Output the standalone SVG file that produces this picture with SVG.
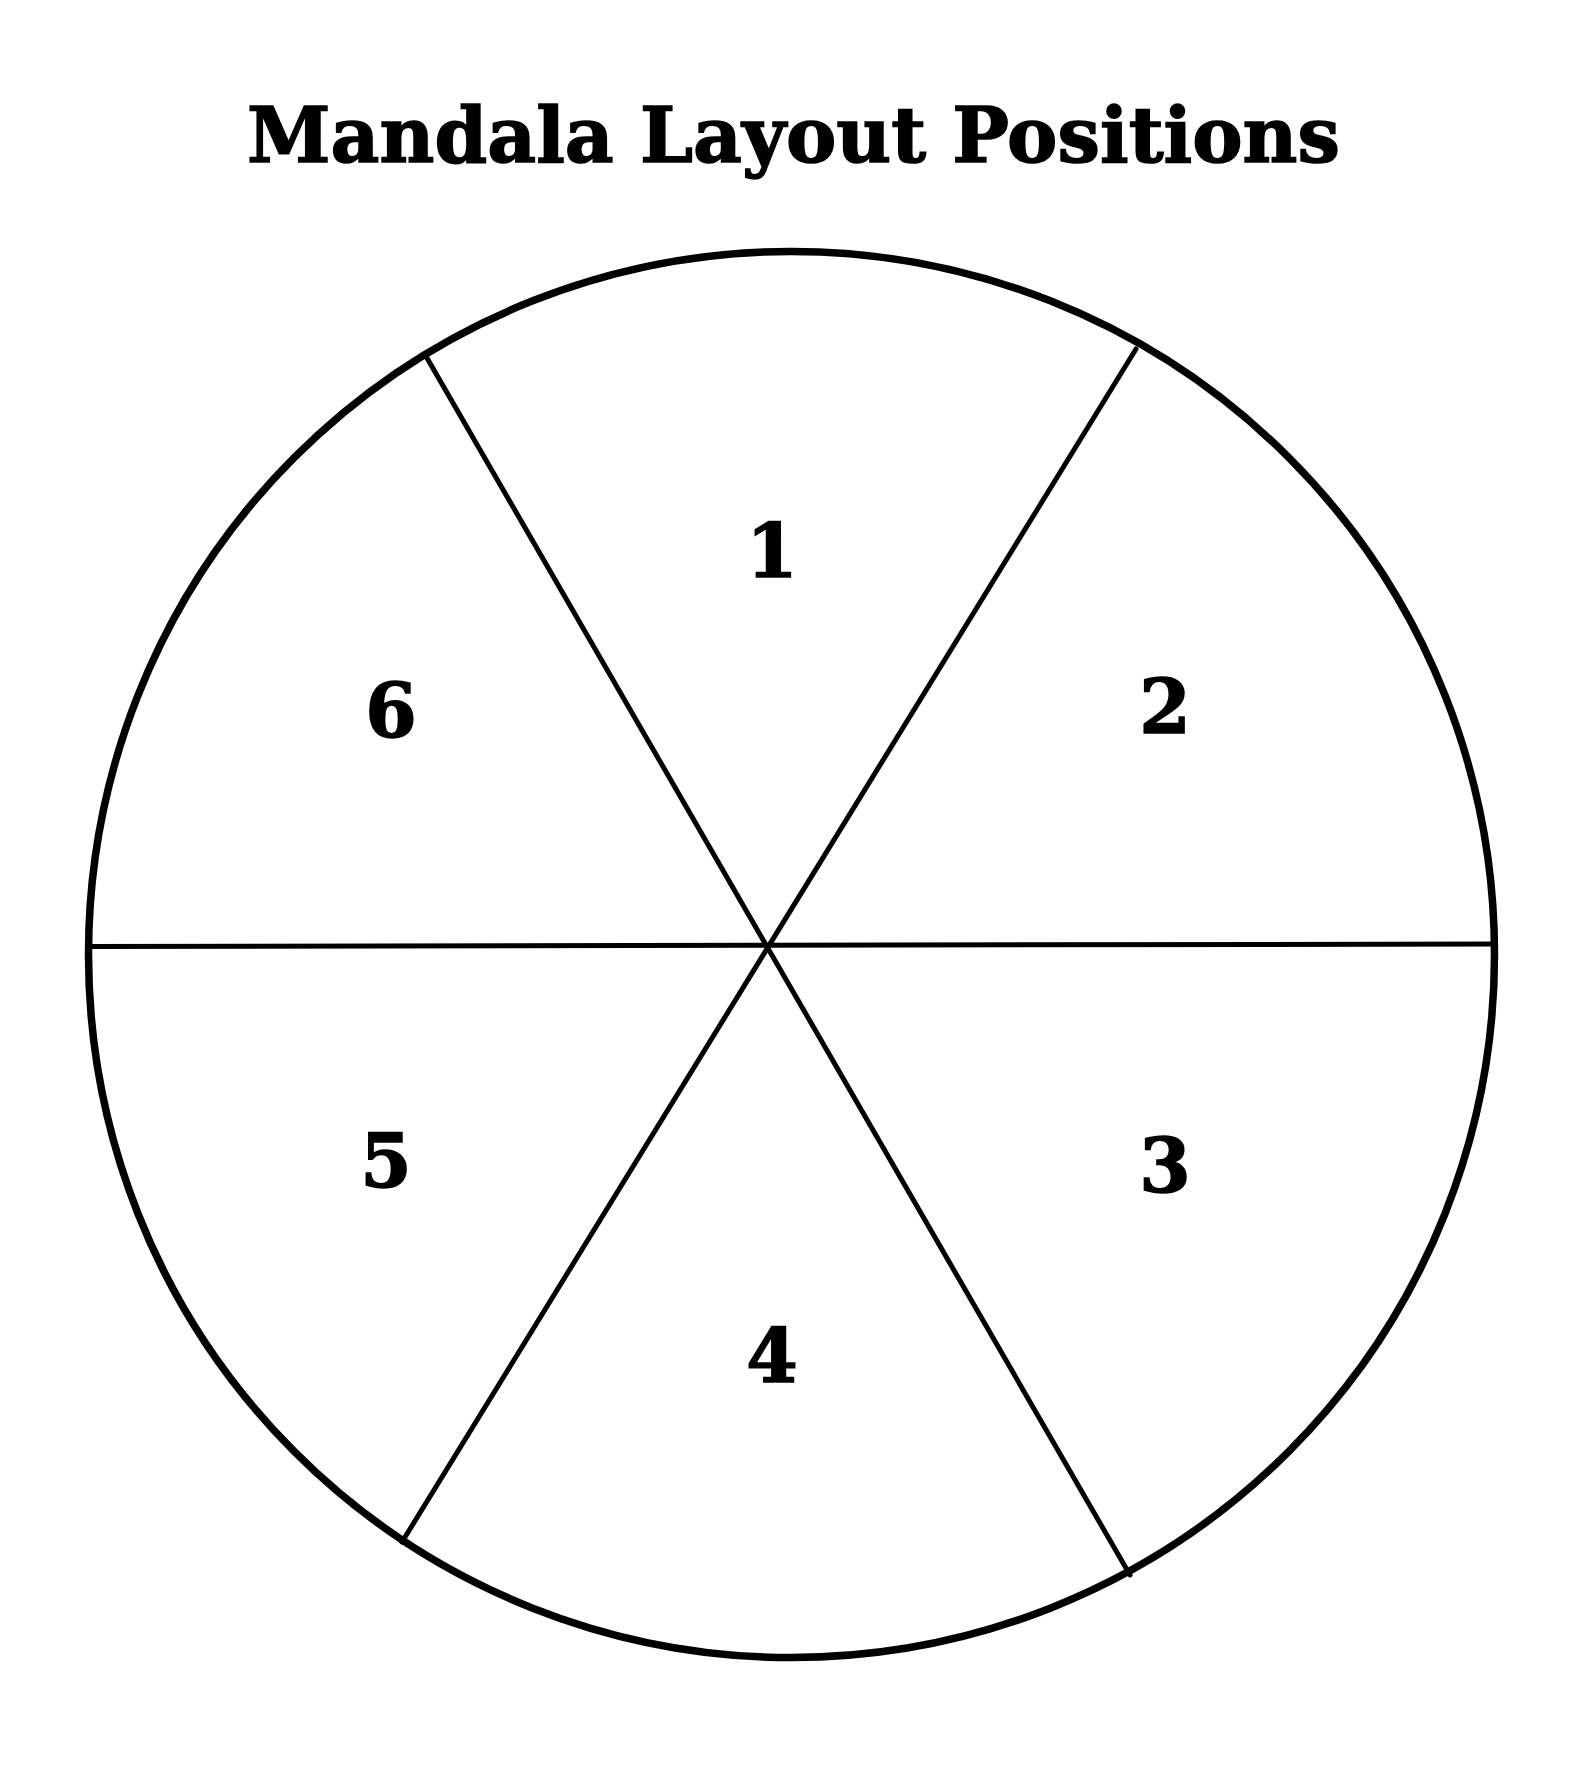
<svg xmlns="http://www.w3.org/2000/svg" width="1570" height="1782" viewBox="0 0 1570 1782">
<style>
.title{font-family:"DejaVu Serif","Liberation Serif",serif;font-weight:bold;font-size:76px;fill:#000;stroke:#000;stroke-width:1.5}
.num{font-family:"DejaVu Serif","Liberation Serif",serif;font-weight:bold;font-size:74px;fill:#000;stroke:#000;stroke-width:1.5;text-anchor:middle}
.rim{fill:none;stroke:#000;stroke-width:7.5}
.spoke{fill:none;stroke:#000;stroke-width:5;stroke-linecap:round}
</style>
<rect width="1570" height="1782" fill="#fff"/>
<text class="title" x="247" y="162" textLength="1093" lengthAdjust="spacingAndGlyphs">Mandala Layout Positions</text>
<g id="rim"><circle class="rim" cx="791.5" cy="954.5" r="703"/></g>
<g id="connectors">
<line class="spoke" x1="88" y1="946.5" x2="1495" y2="944"/>
<line class="spoke" x1="427" y1="358" x2="1130" y2="1575"/>
<line class="spoke" x1="1136" y1="349" x2="402" y2="1542"/>
</g>
<g id="n1"><text class="num" x="772" y="577">1</text></g>
<g id="n2"><text class="num" x="1165" y="733">2</text></g>
<g id="n3"><text class="num" x="1165" y="1192">3</text></g>
<g id="n4"><text class="num" x="772" y="1382">4</text></g>
<g id="n5"><text class="num" x="386" y="1187">5</text></g>
<g id="n6"><text class="num" x="391" y="737">6</text></g>
</svg>
